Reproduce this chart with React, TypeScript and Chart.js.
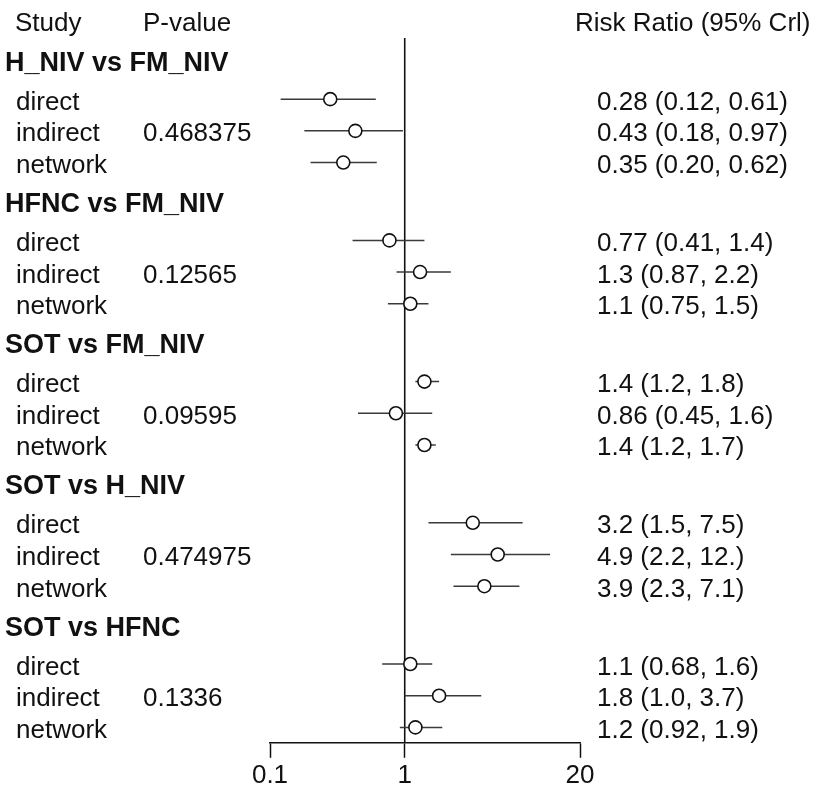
import React, { useEffect, useRef } from "react";
import { Chart, registerables } from "chart.js";

Chart.register(...registerables);

// ---------- data ----------
const comparisons = ["H_NIV vs FM_NIV", "HFNC vs FM_NIV", "SOT vs FM_NIV", "SOT vs H_NIV", "SOT vs HFNC"];
const evidenceTypes = ["direct", "indirect", "network"];
const pValues = ["0.468375", "0.12565", "0.09595", "0.474975", "0.1336"];

const estimates = [
  [0.28, 0.43, 0.35],
  [0.77, 1.3, 1.1],
  [1.4, 0.86, 1.4],
  [3.2, 4.9, 3.9],
  [1.1, 1.8, 1.2],
];
const lowers = [
  [0.12, 0.18, 0.2],
  [0.41, 0.87, 0.75],
  [1.2, 0.45, 1.2],
  [1.5, 2.2, 2.3],
  [0.68, 1.0, 0.92],
];
const uppers = [
  [0.61, 0.97, 0.62],
  [1.4, 2.2, 1.5],
  [1.8, 1.6, 1.7],
  [7.5, 12, 7.1],
  [1.6, 3.7, 1.9],
];
const ciLabels = [
  ["0.28 (0.12, 0.61)", "0.43 (0.18, 0.97)", "0.35 (0.20, 0.62)"],
  ["0.77 (0.41, 1.4)", "1.3 (0.87, 2.2)", "1.1 (0.75, 1.5)"],
  ["1.4 (1.2, 1.8)", "0.86 (0.45, 1.6)", "1.4 (1.2, 1.7)"],
  ["3.2 (1.5, 7.5)", "4.9 (2.2, 12.)", "3.9 (2.3, 7.1)"],
  ["1.1 (0.68, 1.6)", "1.8 (1.0, 3.7)", "1.2 (0.92, 1.9)"],
];
const xTickValues = [0.1, 1, 20];
const xTickLabels = ["0.1", "1", "20"];
const referenceValue = 1;

// ---------- layout ----------
const GROUP_STRIDE = 4.456; // rows per comparison block
const HEADER_ROW = 0.04; // header position inside a block
const FIRST_ITEM_ROW = 1.27; // first estimate row inside a block
const STUDY_ROW = -1.2;
const Y_MIN = -0.66;
const Y_MAX = 21.58;
const BASELINE_OFFSET = 10.5;
const FONT_FAMILY = '"Liberation Sans", Arial, Helvetica, sans-serif';

const headerRow = (g: number) => g * GROUP_STRIDE + HEADER_ROW;
const itemRow = (g: number, i: number) => g * GROUP_STRIDE + FIRST_ITEM_ROW + i;

const textPlugin = {
  id: "forestText",
  afterDraw(chart: any) {
    const ctx = chart.ctx;
    const ys = chart.scales.y;
    const py = (v: number) => ys.getPixelForValue(v) + BASELINE_OFFSET;
    ctx.save();
    ctx.fillStyle = "#111";
    ctx.textAlign = "left";
    ctx.textBaseline = "alphabetic";
    ctx.font = `26px ${FONT_FAMILY}`;
    ctx.fillText("Study", 15, py(STUDY_ROW));
    ctx.fillText("P-value", 143, py(STUDY_ROW));
    ctx.fillText("Risk Ratio (95% Crl)", 575, py(STUDY_ROW));
    comparisons.forEach((name, g) => {
      ctx.font = `bold 27px ${FONT_FAMILY}`;
      ctx.fillText(name, 5, py(headerRow(g)));
      ctx.font = `26px ${FONT_FAMILY}`;
      evidenceTypes.forEach((t, i) => {
        const yy = py(itemRow(g, i));
        ctx.fillText(t, 16, yy);
        ctx.fillText(ciLabels[g][i], 597, yy);
        if (t === "indirect") ctx.fillText(pValues[g], 143, yy);
      });
    });
    ctx.restore();
  },
};

export default function App() {
  const ref = useRef<HTMLCanvasElement | null>(null);

  useEffect(() => {
    if (!ref.current) return;
    const lineColor = "#3a3a3a";
    const datasets: any[] = [];

    const points: any[] = [];
    comparisons.forEach((_, g) =>
      evidenceTypes.forEach((__, i) => points.push({ x: estimates[g][i], y: itemRow(g, i) }))
    );
    datasets.push({
      label: "estimates",
      data: points,
      showLine: false,
      pointStyle: "circle",
      pointRadius: 6.5,
      pointBorderWidth: 1.6,
      pointBackgroundColor: "#fff",
      pointBorderColor: "#111",
      order: 0,
    });

    comparisons.forEach((_, g) =>
      evidenceTypes.forEach((__, i) => {
        const y = itemRow(g, i);
        datasets.push({
          label: `ci-${g}-${i}`,
          data: [
            { x: lowers[g][i], y },
            { x: uppers[g][i], y },
          ],
          showLine: true,
          borderColor: lineColor,
          borderWidth: 1.5,
          pointRadius: 0,
          order: 1,
        });
      })
    );

    datasets.push({
      label: "reference",
      data: [
        { x: referenceValue, y: Y_MIN },
        { x: referenceValue, y: Y_MAX },
      ],
      showLine: true,
      borderColor: "#111",
      borderWidth: 1.6,
      pointRadius: 0,
      order: 2,
    });

    const chart = new Chart(ref.current, {
      type: "scatter",
      data: { datasets },
      options: {
        animation: false,
        responsive: false,
        devicePixelRatio: 1,
        layout: { padding: { top: 38, left: 270, right: 237, bottom: -3 } },
        plugins: { legend: { display: false }, tooltip: { enabled: false } },
        scales: {
          x: {
            type: "logarithmic",
            min: 0.1,
            max: 20,
            afterBuildTicks: (scale: any) => {
              scale.ticks = xTickValues.map((v) => ({ value: v }));
            },
            ticks: {
              autoSkip: false,
              maxRotation: 0,
              padding: 2,
              color: "#111",
              font: { family: FONT_FAMILY, size: 26 },
              callback: (_v: any, idx: number) => xTickLabels[idx],
            },
            grid: {
              display: true,
              drawOnChartArea: false,
              drawTicks: true,
              tickLength: 15,
              tickColor: "#111",
              tickWidth: 1.5,
            },
            border: { display: true, color: "#111", width: 1.5 },
          },
          y: {
            type: "linear",
            reverse: true,
            min: Y_MIN,
            max: Y_MAX,
            display: false,
          },
        },
      },
      plugins: [textPlugin],
    } as any);

    return () => chart.destroy();
  }, []);

  return (
    <div style={{ position: "absolute", left: 0, top: 0, width: 817, height: 790, background: "#fff" }}>
      <canvas ref={ref} width={817} height={790} style={{ display: "block" }} />
    </div>
  );
}
